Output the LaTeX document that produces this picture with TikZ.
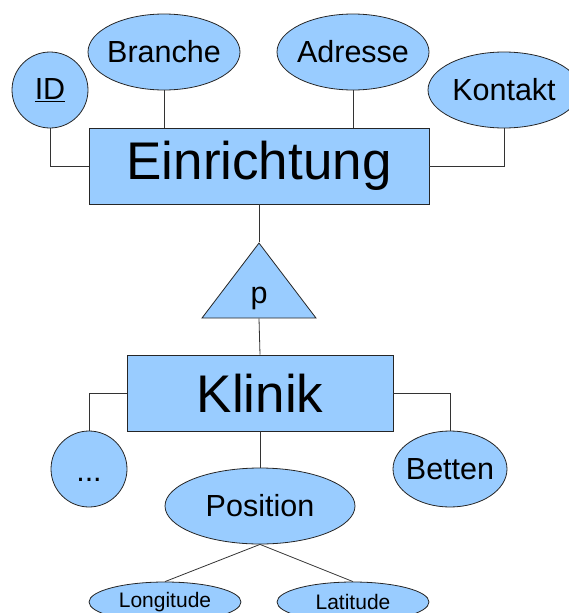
\documentclass[tikz,border=0pt]{standalone}
\usepackage{fontspec}
\setmainfont{Liberation Sans}
\usetikzlibrary{shapes.geometric}
\definecolor{erblue}{HTML}{99CCFF}
\newcommand{\attname}[1]{\makebox[0pt]{#1}}
\tikzset{
  entity/.style={draw=black!85, fill=erblue, line width=0.8pt, minimum height=76pt, inner sep=0pt, font=\fontsize{53}{60}\selectfont},
  attr/.style={draw=black!85, fill=erblue, line width=0.8pt, ellipse, inner sep=0pt, minimum height=76pt, font=\fontsize{30.5}{36}\selectfont},
  subattr/.style={attr, minimum height=40pt, font=\fontsize{21}{25}\selectfont},
  link/.style={draw=black!80, line width=0.8pt}
}
\begin{document}
\begin{tikzpicture}[x=1pt, y=-1pt]
  \useasboundingbox (0,0) rectangle (568,613);
  % entities
  \node[entity, minimum width=340pt] (einr) at (259,166) {Einrichtung};
  \node[entity, minimum width=266pt] (klinik) at (260,393) {Klinik};
  % attributes
  \node[attr, minimum width=76pt] (id) at (50,90) {\underline{ID}};
  \node[attr, minimum width=76pt, text height=24pt, text depth=0pt] (dots) at (89,469) {...};
  \foreach \n/\x/\y/\w/\t in {branche/164/52/152/Branche, adresse/353/52/152/Adresse, kontakt/504/90/152/Kontakt, betten/450/469/114/Betten, position/260/506/190/Position} {
    \node[attr, minimum width=\w pt] (\n) at (\x,\y) {\attname{\t}};
  }
  \node[subattr, minimum width=152pt] (lon) at (165,602) {\attname{Longitude}};
  \node[subattr, minimum width=152pt] (lat) at (353,602) {\attname{Latitude}};
  % isa
  \node[draw=black!85, fill=erblue, line width=0.8pt, isosceles triangle, shape border rotate=90, isosceles triangle stretches, minimum width=114pt, minimum height=75pt, inner sep=0pt, text height=36pt, text depth=6pt, anchor=apex, font=\fontsize{30.5}{36}\selectfont] (isa) at (259,242) {p};
  % connectors
  \draw[link] (id.south) |- (einr.west);
  \draw[link] (branche.south) -- (branche.south |- einr.north);
  \draw[link] (adresse.south) -- (adresse.south |- einr.north);
  \draw[link] (kontakt.south) |- (einr.east);
  \draw[link] (einr.south) -- (isa.apex);
  \draw[link] (isa.south) -- (klinik.north);
  \draw[link] (klinik.west) -| (dots.north);
  \draw[link] (klinik.east) -| (betten.north);
  \draw[link] (klinik.south) -- (position.north);
  \draw[link] (position.south) -- (lon.north);
  \draw[link] (position.south) -- (lat.north);
\end{tikzpicture}
\end{document}
